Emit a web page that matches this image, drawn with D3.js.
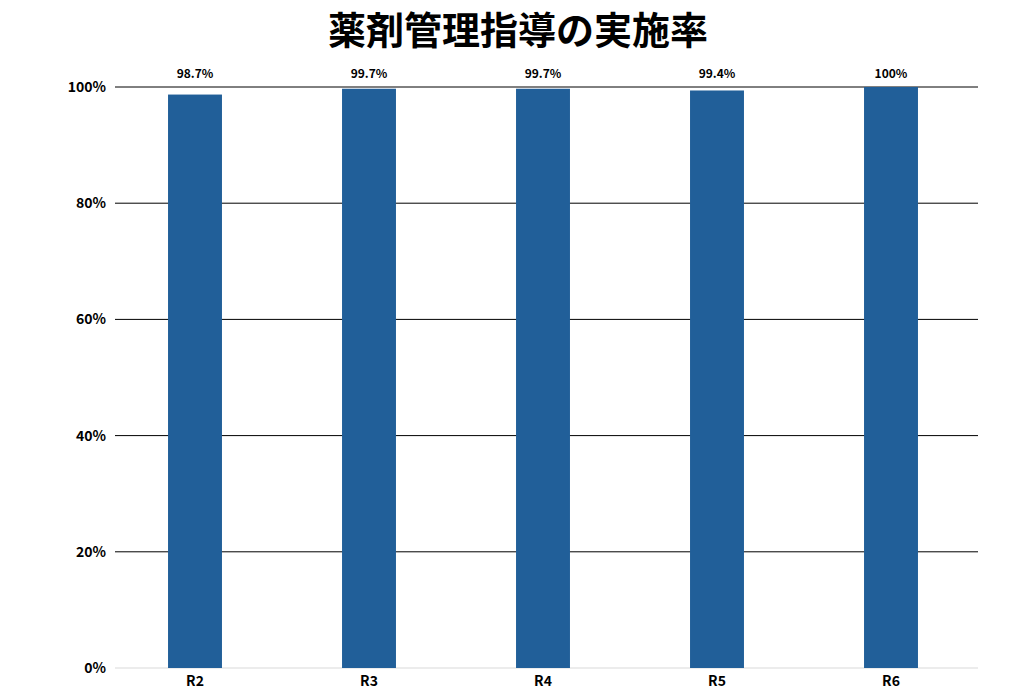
<!DOCTYPE html>
<html><head><meta charset="utf-8">
<script src="https://cdn.jsdelivr.net/npm/d3@7"></script>
<style>body{margin:0;background:#fff}text{font-family:"Noto Sans CJK JP","Noto Sans",sans-serif}</style>
</head><body>
<svg id="chart" width="1036" height="690"></svg>
<script>
var categories = ["R2", "R3", "R4", "R5", "R6"];
var values = [98.7, 99.7, 99.7, 99.4, 100];
var labels = ["98.7%", "99.7%", "99.7%", "99.4%", "100%"];
var yTicks = [0, 20, 40, 60, 80, 100];

var svg = d3.select("#chart");
var x = d3.scaleBand().domain(categories).range([108, 978]).paddingInner(0.69).paddingOuter(0.345);
var y = d3.scaleLinear().domain([0, 100]).range([668, 87]);

svg.append("text").attr("x", 518).attr("y", 44).attr("text-anchor", "middle")
  .style("font-size", "38px").style("font-weight", "bold").text("薬剤管理指導の実施率");

// gridlines
svg.selectAll(".grid").data(yTicks.filter(function(d){ return d > 0; })).enter().append("line")
  .attr("x1", 115).attr("x2", 978).attr("y1", function(d){ return y(d); }).attr("y2", function(d){ return y(d); })
  .attr("stroke", "#000").attr("stroke-width", 1);
svg.append("line").attr("x1", 115).attr("x2", 978).attr("y1", y(0)).attr("y2", y(0))
  .attr("stroke", "#d9d9d9").attr("stroke-width", 1);

svg.selectAll(".ylab").data(yTicks).enter().append("text")
  .attr("x", 106).attr("y", function(d){ return y(d) + 5; }).attr("text-anchor", "end")
  .style("font-size", "14px").style("font-weight", "bold").text(function(d){ return d + "%"; });

svg.selectAll(".bar").data(values).enter().append("rect")
  .attr("x", function(d, i){ return x(categories[i]); }).attr("width", x.bandwidth())
  .attr("y", function(d){ return y(d); }).attr("height", function(d){ return y(0) - y(d); })
  .attr("fill", "#215f99");

svg.selectAll(".val").data(values).enter().append("text")
  .attr("x", function(d, i){ return x(categories[i]) + x.bandwidth() / 2; })
  .attr("y", 78).attr("text-anchor", "middle")
  .style("font-size", "12px").style("font-weight", "bold").text(function(d, i){ return labels[i]; });

svg.selectAll(".xlab").data(categories).enter().append("text")
  .attr("x", function(d){ return x(d) + x.bandwidth() / 2; }).attr("y", 686).attr("text-anchor", "middle")
  .style("font-size", "14px").style("font-weight", "bold").text(function(d){ return d; });
</script>
</body></html>
